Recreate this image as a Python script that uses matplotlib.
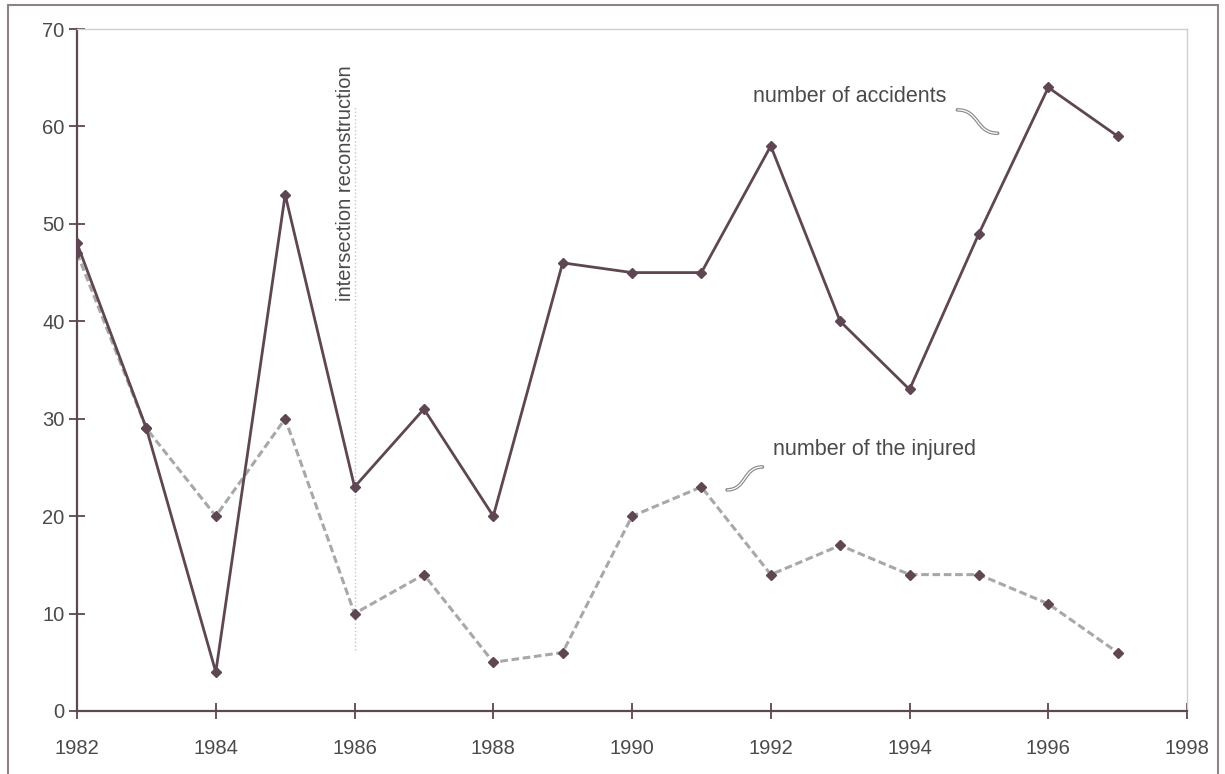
import matplotlib
matplotlib.use("Agg")
import matplotlib.pyplot as plt
from matplotlib.patches import Rectangle, PathPatch
from matplotlib.path import Path

# data
years = [1982, 1983, 1984, 1985, 1986, 1987, 1988, 1989,
         1990, 1991, 1992, 1993, 1994, 1995, 1996, 1997]
accidents = [48, 29, 4, 53, 23, 31, 20, 46, 45, 45, 58, 40, 33, 49, 64, 59]
injured = [47, 29, 20, 30, 10, 14, 5, 6, 20, 23, 14, 17, 14, 14, 11, 6]
x_ticks = list(range(1982, 1999, 2))
y_ticks = list(range(0, 71, 10))
reconstruction_year = 1986

plt.rcParams['font.family'] = ['Liberation Sans', 'DejaVu Sans']
ink = '#5e4652'
text_col = '#4a4a4a'


def squiggle(ax, start, end):
    # small S-shaped hollow leader line like the scan
    (x0, y0), (x1, y1) = start, end
    dx = x1 - x0
    verts = [(x0, y0), (x0 + 0.55 * dx, y0), (x0 + 0.45 * dx, y1), (x1, y1)]
    codes = [Path.MOVETO, Path.CURVE4, Path.CURVE4, Path.CURVE4]
    ax.add_patch(PathPatch(Path(verts, codes), fill=False, edgecolor='#8a8a8a',
                           linewidth=2.6, capstyle='round'))
    ax.add_patch(PathPatch(Path(verts, codes), fill=False, edgecolor='white',
                           linewidth=0.9))


fig = plt.figure(figsize=(12.25, 7.74), dpi=100)
ax = fig.add_axes([0.0629, 0.0814, 0.9061, 0.8811])

# page border from the scan
fig.patches.append(Rectangle((0.0065, -0.05), 0.988, 1.044, transform=fig.transFigure,
                             fill=False, edgecolor='#8c8288', linewidth=1.5))

# injured: grey dashed line with dark markers
ax.plot(years, injured, color='#a8a8a8', linewidth=2.2, linestyle=(0, (2.5, 1.2)), zorder=2)
ax.plot(years, injured, linestyle='none', marker='D', markersize=5,
        color=ink, zorder=3)
# accidents: solid line
ax.plot(years, accidents, color=ink, linewidth=2, marker='D', markersize=5, zorder=4)

# intersection reconstruction marker
ax.vlines(reconstruction_year, 6.3, 62, colors='#c4c4c4', linestyles=':', linewidth=1)
ax.text(reconstruction_year - 0.13, 66.3, 'intersection reconstruction', rotation=90,
        ha='center', va='top', fontsize=14.5, color=text_col)

ax.text(1993.14, 63.1, 'number of accidents', ha='center', va='center',
        fontsize=15.5, color=text_col)
squiggle(ax, (1994.69, 61.7), (1995.27, 59.3))
ax.text(1993.5, 26.8, 'number of the injured', ha='center', va='center',
        fontsize=15.5, color=text_col)
squiggle(ax, (1991.37, 22.7), (1991.88, 25.05))

ax.set_xlim(1982, 1998)
ax.set_ylim(0, 70)
ax.set_xticks(x_ticks)
ax.set_yticks(y_ticks)
ax.tick_params(direction='inout', length=12, width=1.3, color=ink,
               labelsize=14.5, labelcolor=text_col)
ax.tick_params(axis='x', pad=14)
ax.tick_params(axis='y', pad=3)

for side in ['left', 'bottom']:
    ax.spines[side].set_color(ink)
    ax.spines[side].set_linewidth(1.6)
for side in ['top', 'right']:
    ax.spines[side].set_color('#cfcfcf')
    ax.spines[side].set_linewidth(1)

fig.savefig('out.png', dpi=100)
